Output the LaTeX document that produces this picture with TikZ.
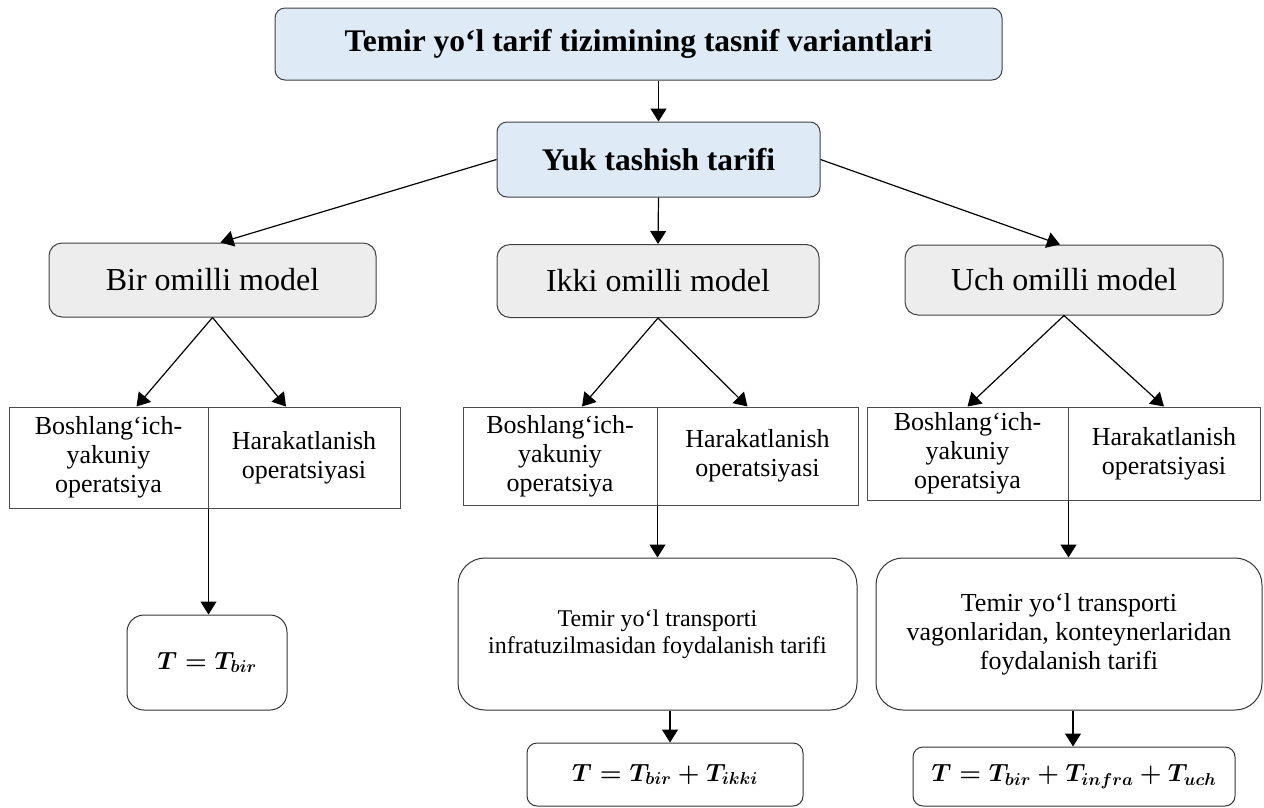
\documentclass[tikz,border=0pt]{standalone}
\usepackage{amsmath}
\usepackage{fontspec}
\setmainfont{Liberation Serif}
\usepackage{xcolor}
\usepackage{tikz}
\usetikzlibrary{arrows.meta}

\definecolor{headblue}{RGB}{222,234,246}
\definecolor{modelgray}{RGB}{237,237,237}

\tikzset{
  headbox/.style={draw=black!75, line width=1pt, rounded corners=10pt, fill=headblue, inner sep=0pt},
  modelbox/.style={draw=black!75, line width=1pt, rounded corners=13pt, fill=modelgray, inner sep=0pt,
    font=\fontsize{32}{36}\selectfont},
  cellbox/.style={draw=black!70, line width=1pt, inner sep=0pt, align=center,
    font=\fontsize{26}{29}\selectfont},
  tarifbox/.style={draw=black!80, line width=1pt, rounded corners=27pt, inner sep=0pt, align=center},
  formbox/.style={draw=black!80, line width=1pt, inner sep=0pt, font=\boldmath\fontsize{24}{28}\selectfont}
}

\begin{document}
\begin{tikzpicture}[x=1pt, y=-1pt, >={Triangle[length=13pt,width=16pt]}]
    \useasboundingbox (0,0) rectangle (1264,807);

    % Heads
    \node[headbox, minimum width=727pt, minimum height=72pt, font=\bfseries\fontsize{31.5}{36}\selectfont]
        (top) at (638.5,44) {Temir yo‘l tarif tizimining tasnif variantlari};
    \node[headbox, minimum width=323pt, minimum height=75pt, font=\bfseries\fontsize{31.5}{36}\selectfont]
        (yuk) at (658.5,159.5) {Yuk tashish tarifi};
    \draw[->, line width=1.3pt] (yuk.north |- top.south) -- (yuk.north);

    % Models
    \node[modelbox, minimum width=327pt, minimum height=74pt] (bir) at (212.5,280) {Bir omilli model};
    \node[modelbox, minimum width=322pt, minimum height=73pt] (ikki) at (658,281) {Ikki omilli model};
    \node[modelbox, minimum width=318pt, minimum height=70pt] (uch) at (1064,280) {Uch omilli model};
    \draw[->, line width=1.2pt] (yuk.west) -- ([xshift=8pt]bir.north);
    \draw[->, line width=1.2pt] (yuk.south) -- (ikki.north);
    \draw[->, line width=1.2pt] (yuk.east) -- ([xshift=-4pt]uch.north);

    % Operations, bir
    \node[cellbox, minimum width=199pt, minimum height=101pt] (birL) at (108.5,457.5) {Boshlang‘ich-\\yakuniy\\operatsiya};
    \node[cellbox, minimum width=192pt, minimum height=101pt] (birR) at (304,457.5) {Harakatlanish\\operatsiyasi};
    \draw[->, line width=1.2pt] (bir.south) -- ([xshift=28pt]birL.north);
    \draw[->, line width=1.2pt] (bir.south) -- ([xshift=-18pt]birR.north);

    % Operations, ikki
    \node[cellbox, minimum width=194pt, minimum height=98pt] (ikkiL) at (560,456) {Boshlang‘ich-\\yakuniy\\operatsiya};
    \node[cellbox, minimum width=201pt, minimum height=98pt] (ikkiR) at (757.5,456) {Harakatlanish\\operatsiyasi};
    \draw[->, line width=1.2pt] (ikki.south) -- ([xshift=22pt]ikkiL.north);
    \draw[->, line width=1.2pt] (ikki.south) -- ([xshift=-10pt]ikkiR.north);

    % Operations, uch
    \node[cellbox, minimum width=201pt, minimum height=93pt] (uchL) at (967.5,453.5) {Boshlang‘ich-\\yakuniy\\operatsiya};
    \node[cellbox, minimum width=192pt, minimum height=93pt] (uchR) at (1164,453.5) {Harakatlanish\\operatsiyasi};
    \draw[->, line width=1.2pt] (uch.south) -- (uchL.north);
    \draw[->, line width=1.2pt] (uch.south) -- (uchR.north);

    % Tariffs
    \node[tarifbox, minimum width=399pt, minimum height=152pt, font=\fontsize{24}{27}\selectfont]
        (infra) at (657.5,634) {Temir yo‘l transporti\\infratuzilmasidan foydalanish tarifi};
    \node[tarifbox, minimum width=386pt, minimum height=152pt, font=\fontsize{26}{29}\selectfont]
        (vagon) at (1069,634) {Temir yo‘l transporti\\vagonlaridan, konteynerlaridan\\foydalanish tarifi};
    \draw[->, line width=1.2pt] (ikkiL.south east) -- (ikkiL.south east |- infra.north);
    \draw[->, line width=1.2pt] (uchL.south east) -- (uchL.south east |- vagon.north);

    % Formulas
    \node[formbox, rounded corners=17pt, minimum width=160pt, minimum height=95pt] (tbir) at (207,662.5) {$T=T_{bir}$};
    \node[formbox, rounded corners=10pt, minimum width=276pt, minimum height=63pt] (tikki) at (665,774.5) {$T=T_{bir}+T_{ikki}$};
    \node[formbox, rounded corners=10pt, minimum width=322pt, minimum height=59pt] (tuch) at (1074,776.5) {$T=T_{bir}+T_{infra}+T_{uch}$};
    \draw[->, line width=1.2pt] (birL.south east) -- (birL.south east |- tbir.north);
    \draw[->, line width=1.2pt] ([xshift=5pt]tikki.north |- infra.south) -- ([xshift=5pt]tikki.north);
    \draw[->, line width=1.2pt] ([xshift=-1pt]tuch.north |- vagon.south) -- ([xshift=-1pt]tuch.north);
\end{tikzpicture}
\end{document}
